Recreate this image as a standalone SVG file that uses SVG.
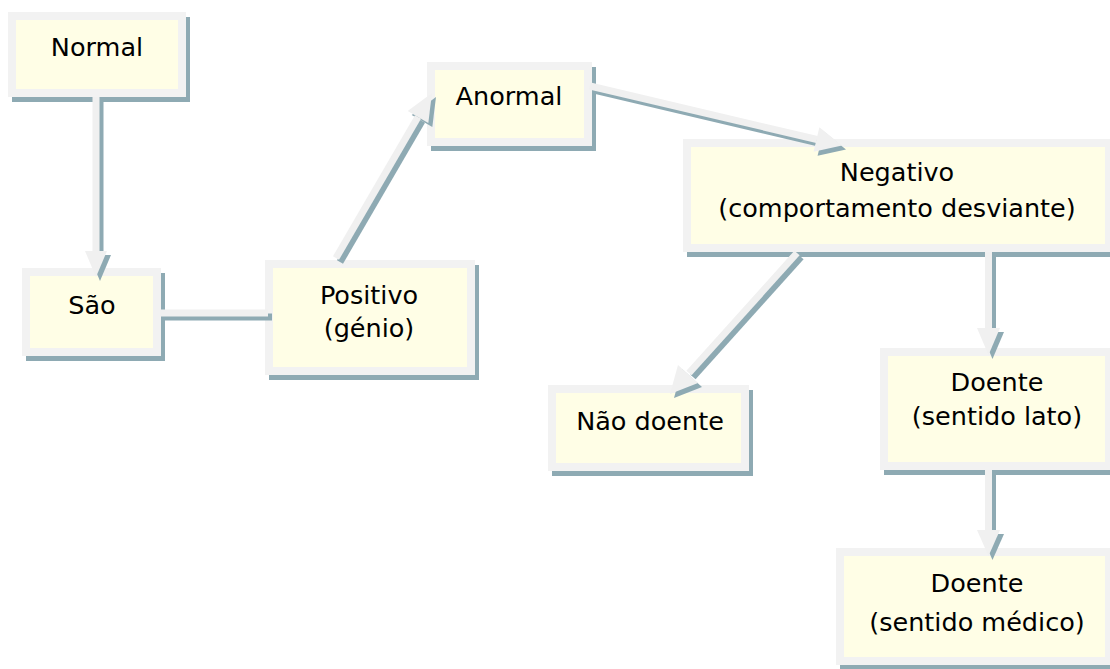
<svg xmlns="http://www.w3.org/2000/svg" xmlns:xlink="http://www.w3.org/1999/xlink" width="1110" height="669" viewBox="0 0 1110 669">
  <style>
    .shadow { fill: #8eaab3; }
    .frame { fill: #f2f2f2; }
    .inner { fill: #fffee6; }
    .label { font-family: "DejaVu Sans", Verdana, sans-serif; font-size: 25.5px; fill: #000; text-anchor: middle; }
    .csh { stroke: #8eaab3; fill: #8eaab3; }
    .cmain { stroke: #f0f0f0; fill: #f0f0f0; }
  </style>
  <defs>
    <g id="c1"><line x1="96" y1="97" x2="96" y2="252" stroke-width="7"/><polygon points="85,251 107,251 96,277" stroke="none"/></g>
    <g id="c2"><line x1="160" y1="313" x2="268" y2="313" stroke-width="7"/></g>
    <g id="c3"><line x1="336" y1="258" x2="418" y2="117" stroke-width="7"/><polygon points="428.3,123.1 407.7,110.9 432,93" stroke="none"/></g>
    <g id="c4"><line x1="590" y1="86" x2="817" y2="139.5" stroke-width="7"/><polygon points="813.6,151.8 819.4,127.2 842,145.5" stroke="none"/></g>
    <g id="c5"><line x1="797" y1="253" x2="689" y2="373" stroke-width="7"/><polygon points="698,383 678,365 670,394" stroke="none"/></g>
    <g id="c6"><line x1="988.5" y1="252" x2="988.5" y2="330" stroke-width="7"/><polygon points="977,328 1000,328 988.5,355" stroke="none"/></g>
    <g id="c7"><line x1="988.5" y1="470" x2="988.5" y2="531" stroke-width="7"/><polygon points="977,530 1000,530 988.5,556" stroke="none"/></g>
  </defs>

  <g id="shadows">
    <rect class="shadow" x="12" y="17" width="178" height="85"/>
    <rect class="shadow" x="26" y="273" width="139" height="88"/>
    <rect class="shadow" x="269" y="265" width="210" height="115"/>
    <rect class="shadow" x="431" y="67" width="165" height="84"/>
    <rect class="shadow" x="687" y="144" width="430" height="113"/>
    <rect class="shadow" x="552" y="390" width="201" height="86"/>
    <rect class="shadow" x="884" y="353" width="233" height="122"/>
    <rect class="shadow" x="840" y="553" width="277" height="117"/>
  </g>

  <g id="node-normal">
    <rect class="frame" x="8" y="12" width="178" height="85"/>
    <rect class="inner" x="16" y="20" width="162" height="69"/>
    <text class="label" x="97" y="56">Normal</text>
  </g>
  <g id="node-sao">
    <rect class="frame" x="22" y="268" width="139" height="88"/>
    <rect class="inner" x="30" y="276" width="123" height="72"/>
    <text class="label" x="92" y="314">São</text>
  </g>
  <g id="node-positivo">
    <rect class="frame" x="265" y="260" width="210" height="115"/>
    <rect class="inner" x="273" y="268" width="194" height="99"/>
    <text class="label" x="369" y="304">Positivo</text>
    <text class="label" x="369" y="337">(génio)</text>
  </g>
  <g id="node-anormal">
    <rect class="frame" x="427" y="62" width="165" height="84"/>
    <rect class="inner" x="435" y="70" width="149" height="68"/>
    <text class="label" x="509" y="105">Anormal</text>
  </g>
  <g id="node-negativo">
    <rect class="frame" x="683" y="139" width="430" height="113"/>
    <rect class="inner" x="691" y="147" width="414" height="97"/>
    <text class="label" x="897" y="181">Negativo</text>
    <text class="label" x="897" y="217">(comportamento desviante)</text>
  </g>
  <g id="node-nao-doente">
    <rect class="frame" x="548" y="385" width="201" height="86"/>
    <rect class="inner" x="556" y="393" width="185" height="70"/>
    <text class="label" x="650" y="430">Não doente</text>
  </g>
  <g id="node-doente-lato">
    <rect class="frame" x="880" y="348" width="233" height="122"/>
    <rect class="inner" x="888" y="356" width="217" height="106"/>
    <text class="label" x="997" y="391">Doente</text>
    <text class="label" x="997" y="425">(sentido lato)</text>
  </g>
  <g id="node-doente-medico">
    <rect class="frame" x="836" y="548" width="277" height="117"/>
    <rect class="inner" x="844" y="556" width="261" height="101"/>
    <text class="label" x="977" y="592">Doente</text>
    <text class="label" x="977" y="631">(sentido médico)</text>
  </g>

  <g id="connectors">
    <g class="csh" transform="translate(4,4)">
      <use xlink:href="#c1"/><use xlink:href="#c2"/><use xlink:href="#c3"/><use xlink:href="#c4"/><use xlink:href="#c5"/><use xlink:href="#c6"/><use xlink:href="#c7"/>
    </g>
    <g class="cmain">
      <use xlink:href="#c1"/><use xlink:href="#c2"/><use xlink:href="#c3"/><use xlink:href="#c4"/><use xlink:href="#c5"/><use xlink:href="#c6"/><use xlink:href="#c7"/>
    </g>
  </g>
</svg>
